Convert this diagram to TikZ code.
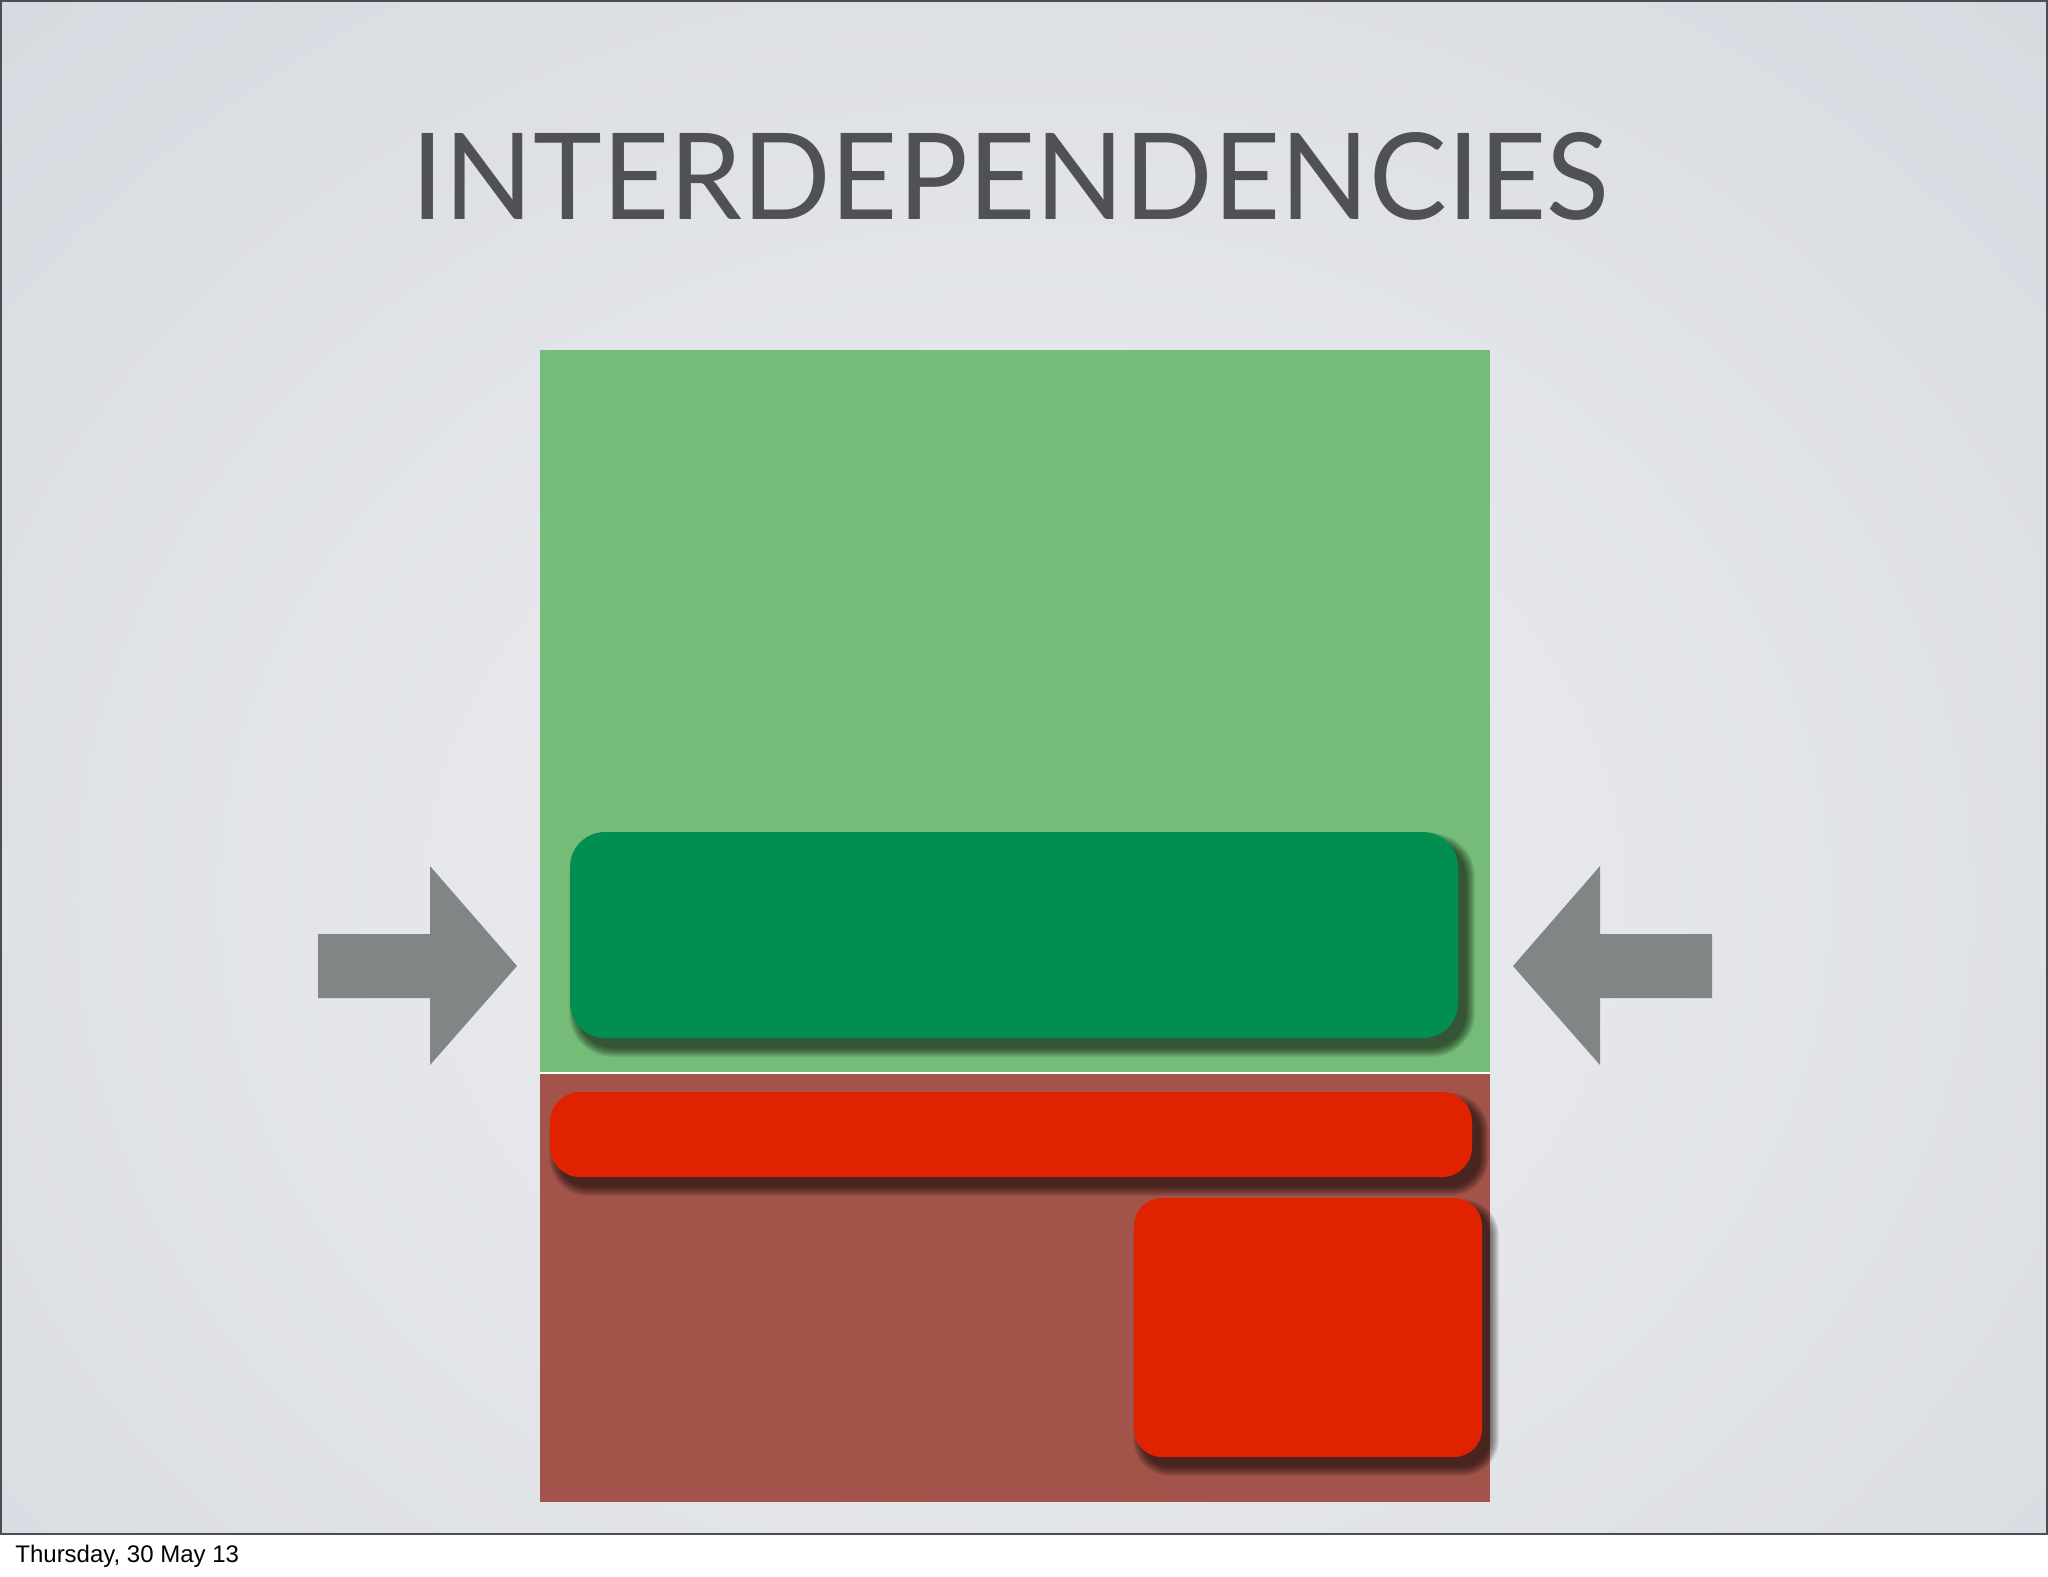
\documentclass[tikz,border=0pt]{standalone}
\usepackage{fontspec}
\setmainfont{Liberation Sans}
\newfontfamily\titlefont{Lato}
\usepackage{graphicx}
\definecolor{bgin}{HTML}{EEEFF3}
\definecolor{bgout}{HTML}{D0D4DA}
\definecolor{frameclr}{HTML}{4A4D52}
\definecolor{titleclr}{HTML}{505155}
\definecolor{lightgreen}{HTML}{74BC77}
\definecolor{darkgreen}{HTML}{008F50}
\definecolor{brownred}{HTML}{A2544A}
\definecolor{brightred}{HTML}{E02200}
\definecolor{arrowgray}{HTML}{818585}
\tikzset{
  arrowshape/.style={fill=arrowgray},
  panel/.style={draw=none},
  box/.style={draw=none},
}
\newcommand\softshadow[5]{%
  \foreach \i [evaluate=\i as \rr using (#5+\i)*0.5] in {0,1,...,9}{%
    \fill[black,opacity=0.07,rounded corners=\rr pt]
      (#1+8-\i,#2+10-\i) rectangle (#3+8+\i,#4+10+\i);}%
}
\begin{document}
\begin{tikzpicture}[x=0.5pt,y=-0.5pt]
\useasboundingbox (0,0) rectangle (2048,1576);
\fill[white] (0,0) rectangle (2048,1576);
% slide background
\begin{scope}
\clip (0,0) rectangle (2048,1534);
\shade[inner color=bgin,outer color=bgout] (-876,-700) rectangle (2924,2500);
\end{scope}
\draw[frameclr,line width=1pt] (0.5,0.5) rectangle (2047,1533.5);
% title
\node[anchor=base,inner sep=0pt,text=titleclr] (title) at (1010.5,219)
  {\resizebox{598.5pt}{43.5pt}{\titlefont INTERDEPENDENCIES}};
% panels
\fill[panel,lightgreen] (540,350) rectangle (1490,1072);
\fill[white] (540,1072) rectangle (1490,1074);
\fill[panel,brownred] (540,1074) rectangle (1490,1502);
% dark green box
\softshadow{570}{832}{1458}{1038}{35}
\fill[box,darkgreen,rounded corners=17.5pt] (570,832) rectangle (1458,1038);
% red bar
\softshadow{550}{1092}{1472}{1177}{30}
\fill[box,brightred,rounded corners=15pt] (550,1092) rectangle (1472,1177);
% red square
\softshadow{1134}{1198}{1482}{1457}{28}
\fill[box,brightred,rounded corners=14pt] (1134,1198) rectangle (1482,1457);
% arrows
\fill[arrowshape] (318,934) -- (430,934) -- (430,866) -- (517,966) -- (430,1065) -- (430,998) -- (318,998) -- cycle;
\fill[arrowshape] (1712,934) -- (1600,934) -- (1600,866) -- (1513,966) -- (1600,1065) -- (1600,998) -- (1712,998) -- cycle;
% date
\node[anchor=base west,inner sep=0pt,font=\fontsize{12pt}{14pt}\selectfont] (date) at (15,1562) {Thursday, 30 May 13};
\end{tikzpicture}
\end{document}
